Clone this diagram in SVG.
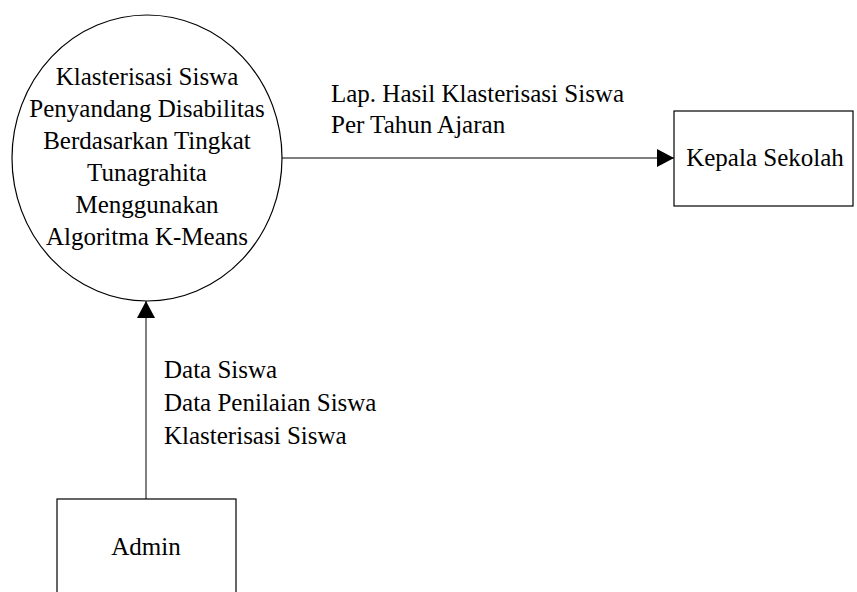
<svg xmlns="http://www.w3.org/2000/svg" width="857" height="592" viewBox="0 0 857 592">
<style>
  .shape { fill: #ffffff; stroke: #000000; stroke-width: 1.2; }
  .conn { fill: none; stroke: #000000; stroke-width: 1; }
  text { font-family: "Liberation Serif", "Times New Roman", serif; font-size: 25px; fill: #000000; }
  .c { text-anchor: middle; }
</style>
<defs>
  <marker id="arrow" markerUnits="userSpaceOnUse" markerWidth="17" markerHeight="18" refX="17" refY="9" orient="auto">
    <path d="M0,0 L17,9 L0,18 Z" fill="#000000"/>
  </marker>
</defs>
<rect width="857" height="592" fill="#ffffff"/>
<g id="connectors">
  <g id="flow-lap">
    <line class="conn" x1="282" y1="158" x2="674" y2="158" marker-end="url(#arrow)"/>
    <text x="331" y="102">Lap. Hasil Klasterisasi Siswa</text>
    <text x="331" y="133">Per Tahun Ajaran</text>
  </g>
  <g id="flow-data">
    <line class="conn" x1="146" y1="499" x2="146" y2="301" marker-end="url(#arrow)"/>
    <text x="164" y="378">Data Siswa</text>
    <text x="164" y="411">Data Penilaian Siswa</text>
    <text x="164" y="444">Klasterisasi Siswa</text>
  </g>
</g>
<g id="process">
  <ellipse class="shape" cx="147" cy="158" rx="135" ry="143"/>
  <text class="c" x="147" y="85">Klasterisasi Siswa</text>
  <text class="c" x="147" y="117">Penyandang Disabilitas</text>
  <text class="c" x="147" y="149">Berdasarkan Tingkat</text>
  <text class="c" x="147" y="181">Tunagrahita</text>
  <text class="c" x="147" y="213">Menggunakan</text>
  <text class="c" x="147" y="245">Algoritma K-Means</text>
</g>
<g id="kepala-sekolah">
  <rect class="shape" x="674" y="111" width="179" height="95"/>
  <text class="c" x="765" y="166">Kepala Sekolah</text>
</g>
<g id="admin">
  <rect class="shape" x="57" y="499" width="179" height="110"/>
  <text class="c" x="146" y="555">Admin</text>
</g>
</svg>
